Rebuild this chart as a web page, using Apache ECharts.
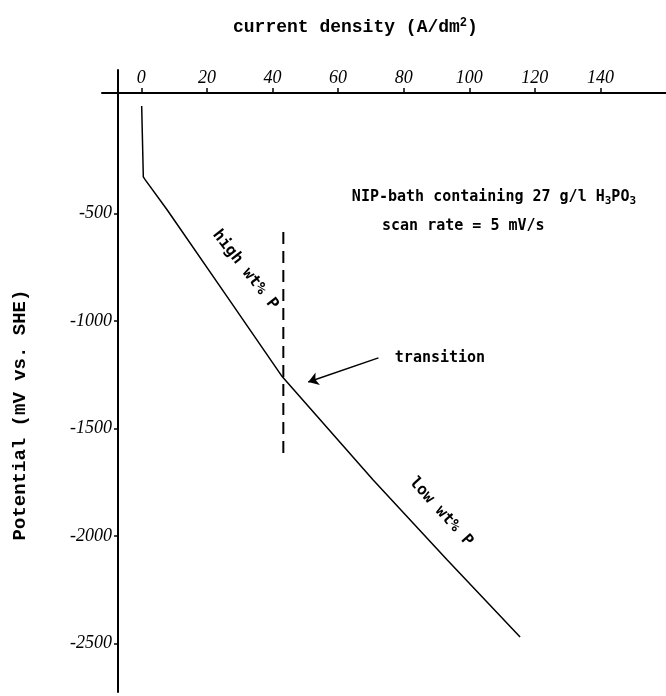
<!DOCTYPE html>
<html>
<head>
<meta charset="utf-8">
<script src="https://cdn.jsdelivr.net/npm/echarts@6/dist/echarts.min.js"></script>
<style>
  html, body { margin: 0; padding: 0; background: #fff; }
  #chart { width: 666px; height: 696px; }
</style>
</head>
<body>
<div id="chart"></div>
<script>
// Cathodic polarisation curve of the NiP bath (current density vs. potential)
const current = [0.1, 0.6, 1.2, 7.9, 26.2, 43.0, 70.7, 93.3, 115.5];
const potential = [0, -330, -344, -484, -888, -1260, -1740, -2112, -2470];

// Dashed vertical line marking the composition transition
const transitionCurrent = [43.3, 43.3];
const transitionPotential = [-586, -1647];

// Arrow pointing at the transition (tail, head)
const arrowCurrent = [72.3, 50.9];
const arrowPotential = [-1172, -1284];

// Tick labels
const currentTicks = [0, 20, 40, 60, 80, 100, 120, 140];
const potentialTicks = [-500, -1000, -1500, -2000, -2500];

// Annotations: text, anchor current, anchor potential, rotation (deg), alignment
const noteTexts = [
  'NIP-bath containing 27 g/l H{sub|3}PO{sub|3}',
  'scan rate = 5 mV/s',
  'transition',
  'high wt% P',
  'low wt% P'
];
const noteCurrent = [64.2, 73.4, 77.3, 31.7, 91.4];
const notePotential = [-423, -558, -1172, -763, -1888];
const noteRotate = [0, 0, 0, -52, -48];
const noteAlign = ['left', 'left', 'left', 'center', 'center'];

const curve = current.map((c, i) => [c, potential[i]]);
const marker = transitionCurrent.map((c, i) => [c, transitionPotential[i]]);

const tickFont = {
  fontFamily: 'Liberation Sans Narrow, Liberation Serif, serif',
  fontStyle: 'italic',
  fontSize: 18,
  color: '#000',
  formatter: (v) => String(v)
};

const chart = echarts.init(document.getElementById('chart'), null, { renderer: 'canvas' });

chart.setOption({
  backgroundColor: '#fff',
  animation: false,
  title: {
    text: 'current density (A/dm{sup|2})',
    left: 228,
    top: 12,
    textStyle: {
      fontFamily: 'Liberation Mono, monospace',
      fontWeight: 'bold',
      fontSize: 18,
      color: '#000',
      rich: {
        sup: {
          fontFamily: 'Liberation Mono, monospace',
          fontWeight: 'bold',
          fontSize: 12,
          color: '#000',
          padding: [0, 0, 9, 0]
        }
      }
    }
  },
  grid: { left: 102, right: 0, top: 70, bottom: 4, containLabel: false },
  xAxis: {
    type: 'value',
    position: 'top',
    offset: -23,
    min: -12,
    max: 160,
    splitLine: { show: false },
    axisLine: { show: true, onZero: false, lineStyle: { color: '#000', width: 2 } },
    axisTick: {
      show: true,
      customValues: currentTicks,
      length: 5,
      lineStyle: { color: '#000', width: 1.5 }
    },
    axisLabel: Object.assign({ customValues: currentTicks, margin: 6 }, tickFont)
  },
  yAxis: {
    type: 'value',
    position: 'left',
    offset: -16,
    min: -2726,
    max: 167,
    name: 'Potential (mV vs. SHE)',
    nameLocation: 'middle',
    nameGap: 88,
    nameRotate: 90,
    nameTextStyle: {
      fontFamily: 'Liberation Mono, monospace',
      fontWeight: 'bold',
      fontSize: 19,
      color: '#000',
      padding: [0, 68, 0, 0]
    },
    splitLine: { show: false },
    axisLine: { show: true, onZero: false, lineStyle: { color: '#000', width: 2 } },
    axisTick: {
      show: true,
      customValues: potentialTicks,
      length: 4,
      lineStyle: { color: '#000', width: 1.5 }
    },
    axisLabel: Object.assign({ customValues: potentialTicks, margin: 6 }, tickFont)
  },
  series: [
    {
      name: 'polarisation curve',
      type: 'line',
      data: curve,
      symbol: 'none',
      lineStyle: { color: '#000', width: 1.5 },
      markLine: {
        silent: true,
        symbol: ['none', 'arrow'],
        symbolSize: [10, 10],
        lineStyle: { color: '#000', width: 1.5, type: 'solid' },
        label: { show: false },
        data: [[
          { coord: [arrowCurrent[0], arrowPotential[0]] },
          { coord: [arrowCurrent[1], arrowPotential[1]] }
        ]]
      }
    },
    {
      name: 'transition',
      type: 'line',
      data: marker,
      symbol: 'none',
      lineStyle: { color: '#000', width: 2, type: [12, 7] }
    }
  ]
});

// Place the annotation texts at their data anchors
const notes = noteTexts.map((t, i) => {
  const p = chart.convertToPixel({ gridIndex: 0 }, [noteCurrent[i], notePotential[i]]);
  return {
    type: 'text',
    x: p[0],
    y: p[1],
    rotation: noteRotate[i] * Math.PI / 180,
    style: {
      text: t,
      fill: '#000',
      fontFamily: 'DejaVu Sans Mono, monospace',
      fontWeight: 'bold',
      fontSize: i >= 3 ? 16 : 15,
      align: noteAlign[i],
      verticalAlign: 'middle',
      rich: {
        sub: {
          fontFamily: 'DejaVu Sans Mono, monospace',
          fontWeight: 'bold',
          fontSize: 11,
          fill: '#000',
          padding: [9, 0, 0, 0]
        }
      }
    }
  };
});
chart.setOption({ graphic: notes });
</script>
</body>
</html>
